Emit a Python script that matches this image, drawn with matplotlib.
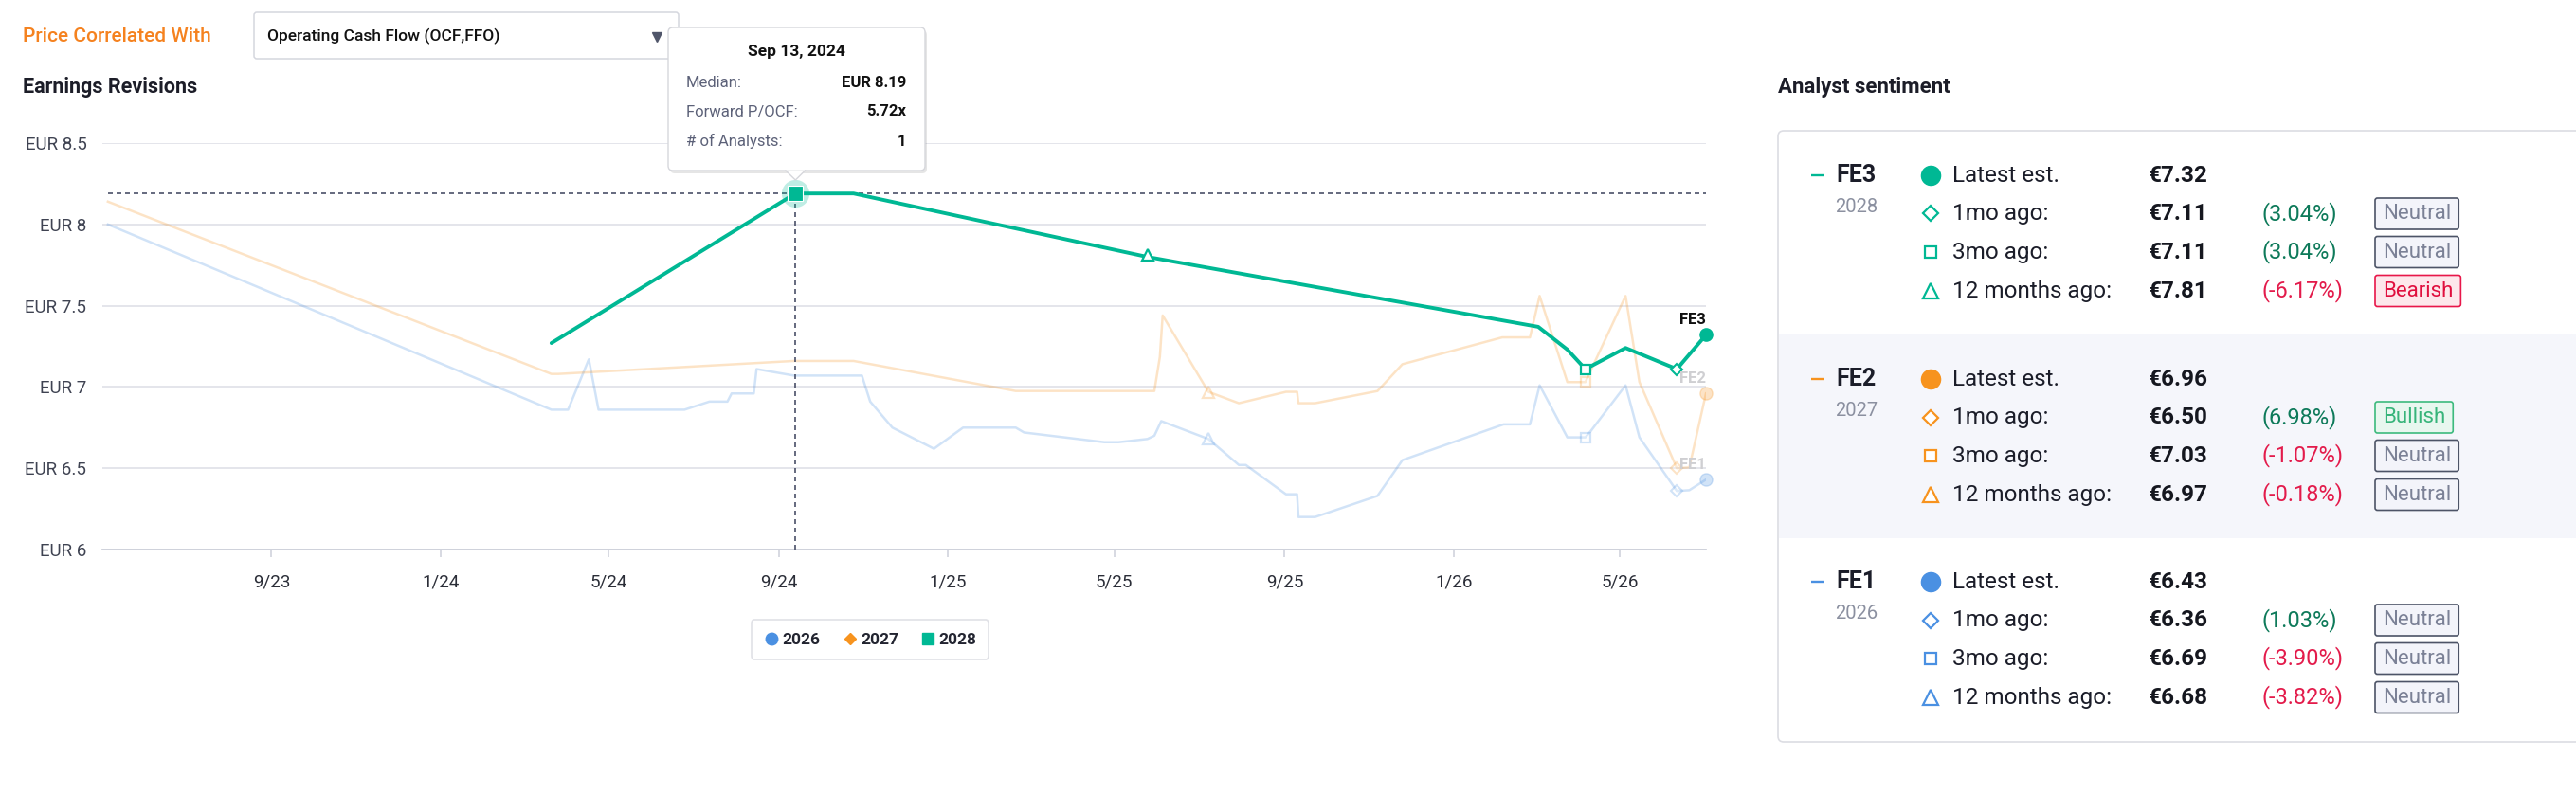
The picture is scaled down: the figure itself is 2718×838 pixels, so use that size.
import matplotlib
matplotlib.use("Agg")
import matplotlib.pyplot as plt
import matplotlib.dates as mdates
from matplotlib.patches import FancyBboxPatch, Polygon, Rectangle
from matplotlib.lines import Line2D
import pandas as pd

plt.rcParams['font.family'] = ['Roboto', 'DejaVu Sans']

# ---------------- data ----------------
fe1_dates = ["2023-05-06", "2024-03-21", "2024-04-02", "2024-04-17", "2024-04-24", "2024-06-25",
             "2024-07-13", "2024-07-26", "2024-07-29", "2024-08-14", "2024-08-16", "2024-09-12",
             "2024-10-31", "2024-11-06", "2024-11-22", "2024-12-22", "2025-01-12", "2025-02-19",
             "2025-02-25", "2025-04-24", "2025-05-04", "2025-05-25", "2025-05-30", "2025-06-04",
             "2025-07-08", "2025-07-30", "2025-08-04", "2025-09-02", "2025-09-10", "2025-09-11",
             "2025-09-23", "2025-11-07", "2025-11-25", "2026-02-06", "2026-02-25", "2026-03-04",
             "2026-03-24", "2026-04-06", "2026-04-10", "2026-05-05", "2026-05-15", "2026-06-11",
             "2026-06-20", "2026-07-02"]
fe1_vals = [8.00, 6.86, 6.86, 7.17, 6.86, 6.86,
            6.91, 6.91, 6.96, 6.96, 7.11, 7.07,
            7.07, 6.91, 6.75, 6.62, 6.75, 6.75,
            6.72, 6.66, 6.66, 6.68, 6.70, 6.79,
            6.68, 6.52, 6.52, 6.34, 6.34, 6.20,
            6.20, 6.33, 6.55, 6.77, 6.77, 7.01,
            6.69, 6.69, 6.73, 7.01, 6.69, 6.36,
            6.365, 6.43]

fe2_dates = ["2023-05-06", "2024-03-21", "2024-03-26", "2024-09-12", "2024-10-25", "2025-02-19",
             "2025-05-30", "2025-06-03", "2025-06-05", "2025-07-08", "2025-07-30", "2025-09-02",
             "2025-09-10", "2025-09-11", "2025-09-23", "2025-11-07", "2025-11-25", "2026-02-05",
             "2026-02-25", "2026-03-04", "2026-03-24", "2026-04-06", "2026-05-05", "2026-05-15",
             "2026-06-11", "2026-06-20", "2026-07-02"]
fe2_vals = [8.14, 7.08, 7.08, 7.16, 7.16, 6.975,
            6.975, 7.185, 7.44, 6.97, 6.90, 6.97,
            6.97, 6.90, 6.90, 6.975, 7.14, 7.305,
            7.305, 7.56, 7.03, 7.03, 7.56, 7.03,
            6.50, 6.505, 6.96]

fe3_dates = ["2024-03-21", "2024-09-13", "2024-10-25", "2025-05-25", "2026-03-03", "2026-03-24",
             "2026-04-06", "2026-05-05", "2026-06-11", "2026-07-02"]
fe3_vals = [7.27, 8.19, 8.19, 7.80, 7.37, 7.23, 7.11, 7.24, 7.11, 7.32]

# analyst sentiment panel (order FE3, FE2, FE1)
series_names = ["FE3", "FE2", "FE1"]
series_years = ["2028", "2027", "2026"]
latest = [7.32, 6.96, 6.43]
one_mo = [7.11, 6.50, 6.36]
three_mo = [7.11, 7.03, 6.69]
twelve_mo = [7.81, 6.97, 6.68]
pct_1mo = [3.04, 6.98, 1.03]
pct_3mo = [3.04, -1.07, -3.90]
pct_12mo = [-6.17, -0.18, -3.82]
sent_1mo = ["Neutral", "Bullish", "Neutral"]
sent_3mo = ["Neutral", "Neutral", "Neutral"]
sent_12mo = ["Bearish", "Neutral", "Neutral"]
row_labels = ["Latest est.", "1mo ago:", "3mo ago:", "12 months ago:"]

latest_date = "2026-07-02"
one_mo_date = "2026-06-11"
three_mo_date = "2026-04-06"
twelve_mo_dates = ["2025-05-25", "2025-07-08", "2025-07-08"]

hover_date = "2024-09-13"
hover_label = "Sep 13, 2024"
hover_median = 8.19
hover_fwd = 5.72
hover_analysts = 1

yticks = [6, 6.5, 7, 7.5, 8, 8.5]
ytick_labels = ["EUR 6", "EUR 6.5", "EUR 7", "EUR 7.5", "EUR 8", "EUR 8.5"]
xtick_dates = ["2023-09-01", "2024-01-01", "2024-05-01", "2024-09-01", "2025-01-01",
               "2025-05-01", "2025-09-01", "2026-01-01", "2026-05-01"]
xtick_labels = ["9/23", "1/24", "5/24", "9/24", "1/25", "5/25", "9/25", "1/26", "5/26"]
legend_labels = ["2026", "2027", "2028"]

# ---------------- style ----------------
GREEN = "#00b894"
ORANGE = "#f7931e"
BLUE = "#4a90e2"
colors = [GREEN, ORANGE, BLUE]
FADE = 0.25


def dn(lst):
    return mdates.date2num(pd.to_datetime(lst))


W, H = 2718, 838
fig = plt.figure(figsize=(W / 100, H / 100), dpi=100)
fig.patch.set_facecolor("white")


def fx(px):
    return px / W


def fy(py):
    return 1 - py / H


ax = fig.add_axes([fx(108), fy(580), (1800 - 108) / W, (580 - 151) / H], zorder=1)
ax.set_xlim(dn(["2023-05-02"])[0], dn(["2026-07-02"])[0])
ax.set_ylim(6, 8.5)

for s in ["top", "right", "left"]:
    ax.spines[s].set_visible(False)
ax.spines["bottom"].set_color("#cdd0da")
ax.spines["bottom"].set_linewidth(1.3)
ax.set_yticks(yticks)
ax.set_yticklabels(ytick_labels)
ax.set_xticks(dn(xtick_dates))
ax.set_xticklabels(xtick_labels)
ax.tick_params(axis="y", length=0, pad=12, labelsize=13.5, labelcolor="#3f4352")
ax.tick_params(axis="x", length=6, width=1.1, color="#cdd0da", pad=12, labelsize=13.5,
               labelcolor="#2b2e38")
ax.yaxis.grid(True, color="#dfe0e8", lw=1.2)
ax.set_axisbelow(True)

# faded series
ax.plot(dn(fe1_dates), fe1_vals, color=BLUE, alpha=FADE, lw=1.8, zorder=2)
ax.plot(dn(fe2_dates), fe2_vals, color=ORANGE, alpha=FADE, lw=1.8, zorder=2)
# main series
ax.plot(dn(fe3_dates), fe3_vals, color=GREEN, lw=2.8, zorder=4, solid_capstyle="round")

# crosshair dashes
ax.hlines(hover_median, dn(fe1_dates)[0], dn(fe1_dates)[-1], colors="#4a5068", lw=1.2,
          linestyles=(0, (3, 2.4)), zorder=3)
ax.vlines(dn([hover_date])[0], 6, hover_median, colors="#4a5068", lw=1.2,
          linestyles=(0, (3, 2.4)), zorder=3)

# markers
for i, name in enumerate(series_names):
    c = colors[i]
    a = 1.0 if i == 0 else FADE
    z = 6 if i == 0 else 3
    ax.plot(dn([twelve_mo_dates[i]]), [twelve_mo[i]], ls="none", marker="^", ms=8.5, mfc="white",
            mec=c, mew=1.6, alpha=a, zorder=z, clip_on=False)
    ax.plot(dn([three_mo_date]), [three_mo[i]], ls="none", marker="s", ms=7.5, mfc="white",
            mec=c, mew=1.6, alpha=a, zorder=z, clip_on=False)
    ax.plot(dn([one_mo_date]), [one_mo[i]], ls="none", marker="D", ms=5.8, mfc="white",
            mec=c, mew=1.5, alpha=a, zorder=z, clip_on=False)
    ax.plot(dn([latest_date]), [latest[i]], ls="none", marker="o", ms=9.5, mfc=c, mec=c,
            alpha=a, zorder=z, clip_on=False)
    ax.annotate(name, xy=(dn([latest_date])[0], latest[i]), xytext=(0, 11.5),
                textcoords="offset points", ha="right", va="center", fontsize=12,
                fontweight="bold", color="#111111" if i == 0 else "#cfcfd2", zorder=7)

# hover marker
hx = dn([hover_date])[0]
ax.plot([hx], [hover_median], ls="none", marker="o", ms=21, color=GREEN, alpha=0.25, zorder=7,
        mew=0)
ax.plot([hx], [hover_median], ls="none", marker="s", ms=11.5, mfc=GREEN, mec="white", mew=0.8,
        zorder=8)

# legend
handles = [Line2D([], [], ls="none", marker="o", ms=9, color=BLUE),
           Line2D([], [], ls="none", marker="D", ms=6.5, color=ORANGE),
           Line2D([], [], ls="none", marker="s", ms=8, color=GREEN)]
leg = fig.legend(handles, legend_labels, loc="center", bbox_to_anchor=(fx(918), fy(675)),
                 ncol=3, frameon=True, fancybox=True, handletextpad=0.15, columnspacing=1.3,
                 borderpad=0.75, handlelength=1.0, prop={"size": 12.5, "weight": "bold"})
leg.get_frame().set_edgecolor("#d9dae0")
leg.get_frame().set_linewidth(1.2)
for t in leg.get_texts():
    t.set_color("#222430")

# ---------------- overlay (pixel coordinates) ----------------
ov = fig.add_axes([0, 0, 1, 1], zorder=10)
ov.set_xlim(0, W)
ov.set_ylim(H, 0)
ov.axis("off")

# header
ov.text(24, 38, "Price Correlated With", fontsize=15, color="#f5821f", va="center", ha="left",
        fontweight="medium")
ov.add_patch(FancyBboxPatch((268, 13), 448, 49, boxstyle="round,pad=0,rounding_size=3",
                            fc="white", ec="#d5d7de", lw=1.1))
ov.text(282, 38, "Operating Cash Flow (OCF,FFO)", fontsize=12.5, color="#111111", va="center",
        ha="left", fontweight="medium")
ov.plot([693], [39], marker="v", ms=7.5, color="#50566a", ls="none")
ov.text(24, 92, "Earnings Revisions", fontsize=15.5, fontweight="bold", color="#1c1d28",
        va="center", ha="left")
ov.text(1876, 92, "Analyst sentiment", fontsize=16, fontweight="bold", color="#1c1d28",
        va="center", ha="left")

# tooltip
ov.add_patch(FancyBboxPatch((707, 32), 271, 151, boxstyle="round,pad=0,rounding_size=5",
                            fc="#000000", ec="none", alpha=0.10))
ov.add_patch(FancyBboxPatch((705, 29), 271, 151, boxstyle="round,pad=0,rounding_size=5",
                            fc="white", ec="#d6d7dc", lw=1.0))
ov.add_patch(Polygon([[829, 179.5], [849.5, 179.5], [839.3, 190]], closed=True, fc="white",
                     ec="none"))
ov.plot([829, 839.3, 849.5], [180, 190, 180], color="#d6d7dc", lw=1.0)
ov.text(840, 54, hover_label, fontsize=12.5, fontweight="bold", color="#111111", ha="center",
        va="center")
tip_rows = [("Median:", f"EUR {hover_median:.2f}"), ("Forward P/OCF:", f"{hover_fwd:.2f}x"),
            ("# of Analysts:", f"{hover_analysts}")]
for k, (lab, val) in enumerate(tip_rows):
    yy = [87, 118, 149][k]
    ov.text(724, yy, lab, fontsize=12, color="#5c6178", ha="left", va="center")
    ov.text(956, yy, val, fontsize=12, fontweight="bold", color="#111111", ha="right",
            va="center")

# panel
ov.add_patch(FancyBboxPatch((1876, 138), 900, 645, boxstyle="round,pad=0,rounding_size=6",
                            fc="white", ec="#dcdde3", lw=1.2))
ov.add_patch(Rectangle((1877, 353), 900, 215, fc="#f5f6fb", ec="none"))

renderer = fig.canvas.get_renderer()
badge_style = {
    "Neutral": ("#f3f4fa", "#4d5467", "#7b8196"),
    "Bearish": ("#fde7eb", "#e8174a", "#e0103f"),
    "Bullish": ("#e8f7ef", "#3dba7e", "#37b47a"),
}
sec_y = [185, 400, 614]
row_dy = [0, 40.5, 81, 122]
markers = [("o", 14.5), ("D", 8.6), ("s", 9.0), ("^", 11.5)]
for i in range(3):
    y0 = sec_y[i]
    c = colors[i]
    ov.plot([1911, 1925], [y0, y0], color=c, lw=1.7, solid_capstyle="butt")
    ov.text(1937, y0, series_names[i], fontsize=18, fontweight="bold", color="#1b1d29",
            va="center", ha="left")
    ov.text(1981, y0 + 33, series_years[i], fontsize=14.5, color="#8b90a0", va="center",
            ha="right")
    vals = [latest[i], one_mo[i], three_mo[i], twelve_mo[i]]
    pcts = [None, pct_1mo[i], pct_3mo[i], pct_12mo[i]]
    sents = [None, sent_1mo[i], sent_3mo[i], sent_12mo[i]]
    for r in range(4):
        yy = y0 + row_dy[r]
        m, ms = markers[r]
        if r == 0:
            ov.plot([2037], [yy], ls="none", marker=m, ms=ms, mfc=c, mec=c)
        else:
            ov.plot([2037], [yy], ls="none", marker=m, ms=ms, mfc="white", mec=c, mew=1.6)
        ov.text(2060, yy, row_labels[r], fontsize=17.5, color="#1b1d29", va="center", ha="left")
        ov.text(2267, yy, f"€{vals[r]:.2f}", fontsize=17.5, fontweight="bold", color="#15171f",
                va="center", ha="left")
        if pcts[r] is not None:
            pc = "#0e7a5a" if pcts[r] >= 0 else "#e31b4b"
            ov.text(2387, yy, f"({pcts[r]:.2f}%)", fontsize=17, color=pc, va="center", ha="left")
            fc, ec, tc = badge_style[sents[r]]
            t = ov.text(2514, yy, sents[r], fontsize=16, color=tc, va="center", ha="left",
                        zorder=12)
            bb = t.get_window_extent(renderer=renderer)
            tw = bb.width
            ov.add_patch(FancyBboxPatch((2506, yy - 16.5), tw + 16, 33,
                                        boxstyle="round,pad=0,rounding_size=2.5", fc=fc, ec=ec,
                                        lw=1.2, zorder=11))

fig.savefig("out.png", dpi=100)
